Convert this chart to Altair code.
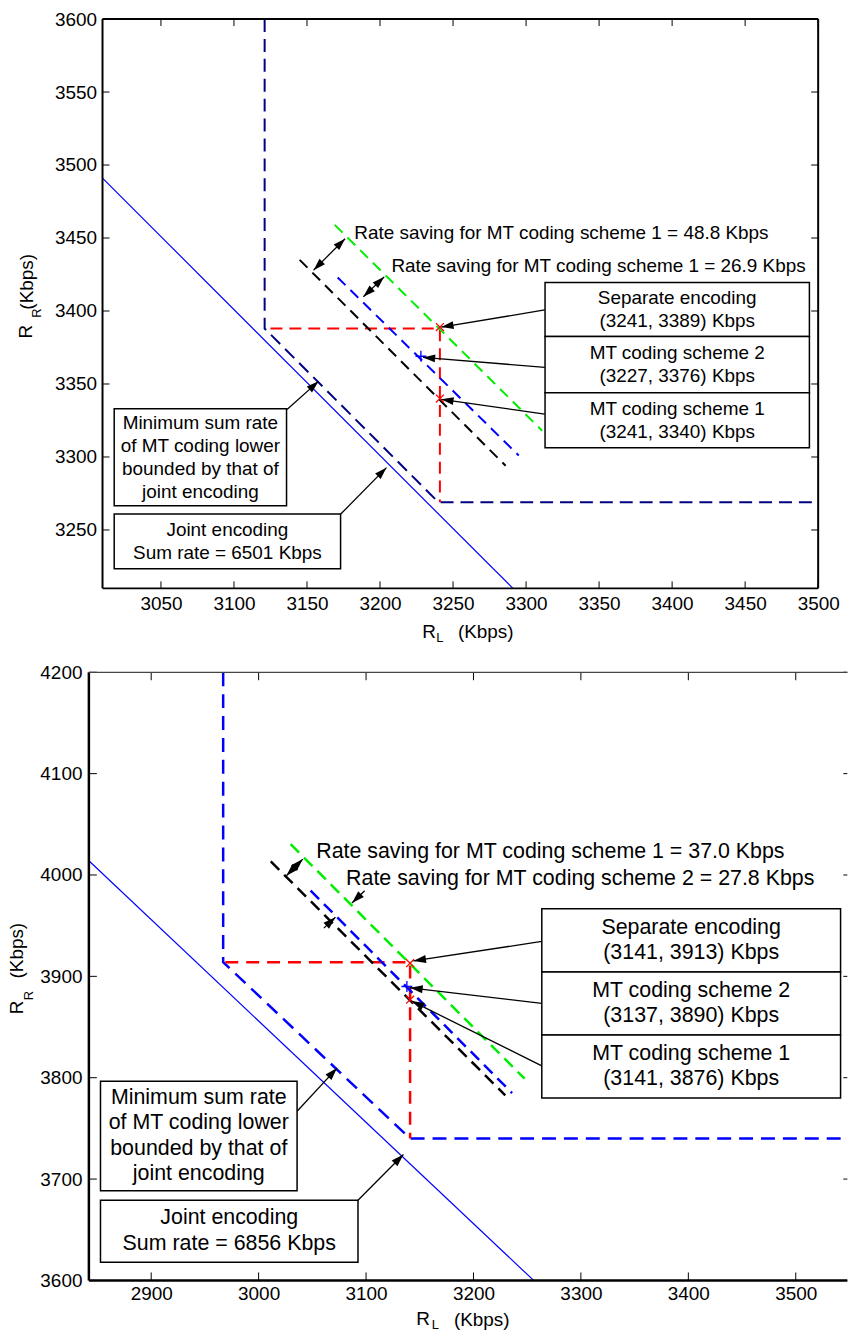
import math
import altair as alt
import pandas as pd

FONT = "Liberation Sans"
NB = "\u00a0"

# ======================= TOP PANEL DATA =======================
TOP_X_DOMAIN = [3010, 3500]
TOP_Y_DOMAIN = [3210, 3600]
TOP_X_TICKS = [3050, 3100, 3150, 3200, 3250, 3300, 3350, 3400, 3450, 3500]
TOP_Y_TICKS = [3250, 3300, 3350, 3400, 3450, 3500, 3550, 3600]

top_joint_x = [3010, 3291]
top_joint_y = [3491, 3210]
top_region_x = [3121, 3121, 3240, 3500]
top_region_y = [3600, 3388, 3269, 3269]
top_sep_x = [3125, 3241, 3241]
top_sep_y = [3388, 3388, 3269]
top_green_x = [3169, 3311]
top_green_y = [3459, 3318]
top_blue_x = [3171, 3295]
top_blue_y = [3423, 3301]
top_black_x = [3145, 3286]
top_black_y = [3435, 3294]

top_xmark_x = [3241, 3241]
top_xmark_y = [3389, 3340]
top_plus_x = [3228]
top_plus_y = [3369]

top_box_x1 = [3313, 3313, 3313, 3018, 3018]
top_box_x2 = [3494, 3494, 3494, 3136, 3173]
top_box_y1 = [3419.5, 3382.5, 3344.0, 3333.0, 3261.0]
top_box_y2 = [3382.5, 3344.0, 3306.3, 3266.6, 3223.4]
top_box_text = [
    "Separate encoding\n" + NB + NB + "(3241, 3389) Kbps",
    "MT coding scheme 2\n" + NB + NB + "(3227, 3376) Kbps",
    "MT coding scheme 1\n" + NB + NB + "(3241, 3340) Kbps",
    "Minimum sum rate\nof MT coding lower\nbounded by that of\njoint encoding",
    "Joint encoding\nSum rate = 6501 Kbps",
]

top_note_x = [3182.4, 3207.8]
top_note_y = [3453.6, 3430.9]
top_note_text = [
    "Rate saving for MT coding scheme 1 = 48.8 Kbps",
    "Rate saving for MT coding scheme 1 = 26.9 Kbps",
]

top_arrow_x0 = [3136.3, 3173.1, 3312.8, 3312.8, 3312.8, 3154.5, 3188.6]
top_arrow_y0 = [3332.5, 3260.9, 3400.7, 3361.4, 3329.3, 3428.0, 3409.8]
top_arrow_x1 = [3157.9, 3204.4, 3242.0, 3229.4, 3242.0, 3176.1, 3202.9]
top_arrow_y1 = [3351.8, 3292.7, 3389.0, 3368.2, 3339.5, 3449.5, 3423.4]
top_arrow_both = [False, False, False, False, False, True, True]

# ======================= BOTTOM PANEL DATA =======================
BOT_X_DOMAIN = [2842, 3548]
BOT_Y_DOMAIN = [3600, 4200]
BOT_X_TICKS = [2900, 3000, 3100, 3200, 3300, 3400, 3500]
BOT_Y_TICKS = [3600, 3700, 3800, 3900, 4000, 4100, 4200]

bot_joint_x = [2842, 3256]
bot_joint_y = [4014, 3600]
bot_region_x = [2967, 2967, 3141, 3548]
bot_region_y = [4200, 3914, 3740, 3740]
bot_sep_x = [2969, 3141, 3141]
bot_sep_y = [3914, 3914, 3740]
bot_green_x = [3029.8, 3247.6]
bot_green_y = [4030.4, 3799.0]
bot_blue_x = [3048.4, 3235.9]
bot_blue_y = [3984.6, 3784.9]
bot_black_x = [3011.3, 3229.6]
bot_black_y = [4013.4, 3782.6]

bot_xmark_x = [3141, 3141]
bot_xmark_y = [3913, 3877]
bot_plus_x = [3138]
bot_plus_y = [3890]

bot_box_x1 = [3263.6, 3263.6, 3263.6, 2852.8, 2852.8]
bot_box_x2 = [3541.7, 3541.7, 3541.7, 3035.8, 3092.5]
bot_box_y1 = [3966.6, 3904.4, 3842.2, 3796.4, 3679.1]
bot_box_y2 = [3904.4, 3842.2, 3780.0, 3688.4, 3618.0]
bot_box_text = [
    "Separate encoding\n(3141, 3913) Kbps",
    "MT coding scheme 2\n(3137, 3890) Kbps",
    "MT coding scheme 1\n(3141, 3876) Kbps",
    "Minimum sum rate\nof MT coding lower\nbounded by that of\njoint encoding",
    "Joint encoding\nSum rate = 6856 Kbps",
]

bot_note_x = [3053.6, 3081.4]
bot_note_y = [4022.9, 3996.0]
bot_note_text = [
    "Rate saving for MT coding scheme 1 = 37.0 Kbps",
    "Rate saving for MT coding scheme 2 = 27.8 Kbps",
]

bot_arrow_x0 = [3035.8, 3092.5, 3263.6, 3263.6, 3263.6, 3025.8, 3098.7, 3060.7]
bot_arrow_y0 = [3766.9, 3679.1, 3934.5, 3873.3, 3811.7, 3999.3, 3984.5, 3947.6]
bot_arrow_x1 = [3073.0, 3134.8, 3144.1, 3141.0, 3142.5, 3041.2, 3086.9, 3071.5]
bot_arrow_y1 = [3809.5, 3724.3, 3915.2, 3888.7, 3875.6, 4015.7, 3972.4, 3958.4]
bot_arrow_both = [False, False, False, False, False, True, False, False]

# ======================= layout (pixels of the single view) =======================
VIEW_W, VIEW_H = 852, 1336
TOP_RECT = (103.0, 16.0, 822.0, 588.0)      # left, top, right, bottom
BOT_RECT = (89.3, 672.3, 851.3, 1283.3)

ARROW_PATH = "M0,0L-0.32,1L0.32,1Z"
X_PATH = "M-1,-1L1,1M-1,1L1,-1"
PLUS_PATH = "M-1,0L1,0M0,-1L0,1"
ONE = pd.DataFrame({"k": [0]})


def build_group(cfg):
    L, T, R, B = cfg["rect"]
    xsc = alt.Scale(domain=cfg["xdom"], range=[L, R], nice=False, zero=False)
    ysc = alt.Scale(domain=cfg["ydom"], range=[B, T], nice=False, zero=False)
    xax = alt.Axis(values=cfg["xticks"], format="d", tickSize=0, domain=False, grid=False, orient="bottom",
                   offset=B - VIEW_H, labelFont=FONT, labelFontSize=19, labelColor="black",
                   labelPadding=cfg["xlabpad"], labelFlush=False, labelOverlap=False, title=None)
    yax = alt.Axis(values=cfg["yticks"], format="d", tickSize=0, domain=False, grid=False, orient="left",
                   offset=-L, labelFont=FONT, labelFontSize=19, labelColor="black",
                   labelPadding=cfg["ylabpad"], labelFlush=False, labelOverlap=False, title=None)

    def X(f):
        return alt.X(f, scale=xsc, axis=xax, title=None)

    def Y(f):
        return alt.Y(f, scale=ysc, axis=yax, title=None)

    sx = (R - L) / (cfg["xdom"][1] - cfg["xdom"][0])
    sy = (B - T) / (cfg["ydom"][1] - cfg["ydom"][0])

    layers = []
    for (xs, ys, color, dash, sw) in cfg["lines"]:
        df = pd.DataFrame({"x": xs, "y": ys, "o": list(range(len(xs)))})
        kw = dict(color=color, strokeWidth=sw)
        if dash:
            kw["strokeDash"] = dash
        layers.append(alt.Chart(df).mark_line(**kw).encode(x=X("x:Q"), y=Y("y:Q"), order="o:Q"))

    for (xs, ys, color, path, size) in cfg["markers"]:
        df = pd.DataFrame({"x": xs, "y": ys})
        layers.append(alt.Chart(df).mark_point(shape=path, filled=False, color=color, size=size,
                                               strokeWidth=1.3, opacity=1)
                      .encode(x=X("x:Q"), y=Y("y:Q")))

    bx = pd.DataFrame({"x1": cfg["box_x1"], "x2": cfg["box_x2"], "y1": cfg["box_y1"],
                       "y2": cfg["box_y2"], "t": cfg["box_text"],
                       "n": [len(t.split("\n")) for t in cfg["box_text"]]})
    layers.append(alt.Chart(bx).mark_rect(fill="white", stroke="black", strokeWidth=1.5)
                  .encode(x=X("x1:Q"), x2="x2:Q", y=Y("y1:Q"), y2="y2:Q"))
    shift = cfg["lh"] / sy
    layers.append(alt.Chart(bx).transform_calculate(
        xc="(datum.x1+datum.x2)/2",
        yc="(datum.y1+datum.y2)/2 + (datum.n-1)/2*%f" % shift)
                  .mark_text(font=FONT, fontSize=cfg["fs"], lineHeight=cfg["lh"], lineBreak="\n",
                             align="center", baseline="middle", color="black")
                  .encode(x=X("xc:Q"), y=Y("yc:Q"), text="t:N"))

    ar = pd.DataFrame({"x0": cfg["ax0"], "y0": cfg["ay0"], "x1": cfg["ax1"], "y1": cfg["ay1"]})
    layers.append(alt.Chart(ar).mark_rule(color="black", strokeWidth=1.3)
                  .encode(x=X("x0:Q"), y=Y("y0:Q"), x2="x1:Q", y2="y1:Q"))
    heads = []
    for x0, y0, x1, y1, both in zip(cfg["ax0"], cfg["ay0"], cfg["ax1"], cfg["ay1"], cfg["aboth"]):
        ang = math.degrees(math.atan2((x1 - x0) * sx, (y1 - y0) * sy)) % 360
        heads.append({"x": x1, "y": y1, "ang": ang})
        if both:
            heads.append({"x": x0, "y": y0, "ang": (ang + 180) % 360})
    hd = pd.DataFrame(heads)
    layers.append(alt.Chart(hd).mark_point(shape=ARROW_PATH, filled=True, color="black", size=cfg["hsize"],
                                           strokeWidth=0, opacity=1)
                  .encode(x=X("x:Q"), y=Y("y:Q"), angle=alt.Angle("ang:Q", scale=None)))

    nt = pd.DataFrame({"x": cfg["nx"], "y": cfg["ny"], "t": cfg["nt"]})
    layers.append(alt.Chart(nt).mark_text(font=FONT, fontSize=cfg["fs"], align="left", baseline="middle",
                                          color="black")
                  .encode(x=X("x:Q"), y=Y("y:Q"), text="t:N"))

    # inward ticks on all four sides
    xt = pd.DataFrame({"v": cfg["xticks"]})
    yt = pd.DataFrame({"v": cfg["yticks"]})
    tk = cfg["tick"]
    layers.append(alt.Chart(xt).mark_rule(color="black", strokeWidth=1)
                  .encode(x=X("v:Q"), y=alt.value(B), y2=alt.value(B - tk)))
    layers.append(alt.Chart(xt).mark_rule(color="black", strokeWidth=1)
                  .encode(x=X("v:Q"), y=alt.value(T), y2=alt.value(T + tk)))
    layers.append(alt.Chart(yt).mark_rule(color="black", strokeWidth=1)
                  .encode(y=Y("v:Q"), x=alt.value(L), x2=alt.value(L + tk)))
    layers.append(alt.Chart(yt).mark_rule(color="black", strokeWidth=1)
                  .encode(y=Y("v:Q"), x=alt.value(R), x2=alt.value(R - cfg["rtick"])))

    # frame
    for (side, col, sw) in cfg["frame"]:
        seg = {"left": (L, T, L, B), "right": (R, T, R, B), "top": (L, T, R, T), "bottom": (L, B, R, B)}[side]
        layers.append(alt.Chart(ONE).mark_rule(color=col, strokeWidth=sw)
                      .encode(x=alt.value(seg[0]), y=alt.value(seg[1]), x2=alt.value(seg[2]), y2=alt.value(seg[3])))

    # axis titles with subscripts
    for (txt, px, py, fs, ang) in cfg["titles"]:
        kw = dict(font=FONT, fontSize=fs, align="center", baseline="middle", color="black")
        if ang:
            kw["angle"] = ang
        layers.append(alt.Chart(ONE).mark_text(**kw)
                      .encode(x=alt.value(px), y=alt.value(py), text=alt.value(txt)))

    return alt.layer(*layers)


top_cfg = dict(
    rect=TOP_RECT, xdom=TOP_X_DOMAIN, ydom=TOP_Y_DOMAIN, xticks=TOP_X_TICKS, yticks=TOP_Y_TICKS,
    xlabpad=6, ylabpad=6,
    lines=[
        (top_joint_x, top_joint_y, "#0000ff", None, 1.2),
        (top_region_x, top_region_y, "#000080", [13, 7], 2),
        (top_sep_x, top_sep_y, "#ff0000", [12, 7], 2),
        (top_green_x, top_green_y, "#00ee00", [11, 7], 2),
        (top_blue_x, top_blue_y, "#0000ff", [11, 7], 2),
        (top_black_x, top_black_y, "#000000", [11, 7], 2),
    ],
    markers=[
        (top_xmark_x, top_xmark_y, "#ff0000", X_PATH, 64),
        (top_plus_x, top_plus_y, "#0000ff", PLUS_PATH, 120),
    ],
    box_x1=top_box_x1, box_x2=top_box_x2, box_y1=top_box_y1, box_y2=top_box_y2, box_text=top_box_text,
    fs=19, lh=23,
    ax0=top_arrow_x0, ay0=top_arrow_y0, ax1=top_arrow_x1, ay1=top_arrow_y1, aboth=top_arrow_both,
    hsize=600,
    nx=top_note_x, ny=top_note_y, nt=top_note_text,
    tick=7, rtick=7,
    frame=[("left", "black", 2), ("right", "black", 2), ("top", "black", 2), ("bottom", "black", 2)],
    titles=[
        ("R", 431, 632, 19, 0), ("L", 442, 638, 13, 0), ("(Kbps)", 488, 632, 19, 0),
        ("R", 26, 330, 19, 270), ("R", 37, 311.5, 13, 270), ("(Kbps)", 27, 280, 19, 270),
    ],
)

bot_cfg = dict(
    rect=BOT_RECT, xdom=BOT_X_DOMAIN, ydom=BOT_Y_DOMAIN, xticks=BOT_X_TICKS, yticks=BOT_Y_TICKS,
    xlabpad=4, ylabpad=7,
    lines=[
        (bot_joint_x, bot_joint_y, "#0000ff", None, 1.2),
        (bot_region_x, bot_region_y, "#0000ff", [14, 8], 2.5),
        (bot_sep_x, bot_sep_y, "#ff0000", [13, 8], 2.5),
        (bot_green_x, bot_green_y, "#00ee00", [12, 7], 2.5),
        (bot_blue_x, bot_blue_y, "#0000ff", [12, 7], 2.5),
        (bot_black_x, bot_black_y, "#000000", [12, 7], 2.5),
    ],
    markers=[
        (bot_xmark_x, bot_xmark_y, "#ff0000", X_PATH, 64),
        (bot_plus_x, bot_plus_y, "#0000ff", PLUS_PATH, 120),
    ],
    box_x1=bot_box_x1, box_x2=bot_box_x2, box_y1=bot_box_y1, box_y2=bot_box_y2, box_text=bot_box_text,
    fs=21.5, lh=25.7,
    ax0=bot_arrow_x0, ay0=bot_arrow_y0, ax1=bot_arrow_x1, ay1=bot_arrow_y1, aboth=bot_arrow_both,
    hsize=640,
    nx=bot_note_x, ny=bot_note_y, nt=bot_note_text,
    tick=8, rtick=4,
    frame=[("left", "black", 2.5), ("bottom", "black", 2.5), ("top", "#444444", 1.2)],
    titles=[
        ("R", 425, 1322, 19, 0), ("L", 437.5, 1328.5, 13, 0), ("(Kbps)", 484, 1323, 19, 0),
        ("R", 17, 1009, 19, 270), ("R", 29, 997, 13, 270), ("(Kbps)", 17, 952, 19, 270),
    ],
)

chart = alt.layer(build_group(top_cfg), build_group(bot_cfg)).resolve_scale(
    x="independent", y="independent"
).properties(
    width=VIEW_W, height=VIEW_H,
    view=alt.ViewBackground(strokeOpacity=0),
).configure(
    padding={"left": 0, "top": 0, "right": 0, "bottom": 0},
    background="white",
)

chart.save("out.html", embed_options={"renderer": "svg", "actions": False})
